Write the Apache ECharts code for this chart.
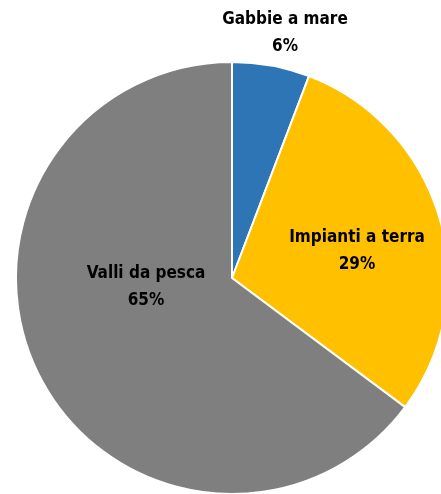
<!DOCTYPE html>
<html>
<head>
<meta charset="utf-8">
<style>html,body{margin:0;padding:0;background:#fff;}#c{width:441px;height:494px;}</style>
<script src="https://cdn.jsdelivr.net/npm/echarts@6/dist/echarts.min.js"></script>
</head>
<body>
<div id="c"></div>
<script>
var categories = ['Gabbie a mare', 'Impianti a terra', 'Valli da pesca'];
var values = [5.8, 29.4, 64.8];
var colors = ['#2E75B6', '#FFC000', '#7F7F7F'];
var labelPos = [[285, 33], [357, 251], [146, 287]];

var chart = echarts.init(document.getElementById('c'));
chart.setOption({
  animation: false,
  series: [{
    type: 'pie',
    center: [232, 278],
    radius: [0, 216],
    startAngle: 90,
    clockwise: true,
    avoidLabelOverlap: false,
    itemStyle: { borderColor: '#fff', borderWidth: 2 },
    label: {
      show: true,
      position: 'inside',
      formatter: function (p) { return p.name + '\n' + Math.round(p.percent) + '%'; },
      fontFamily: '"DejaVu Sans Condensed", "Noto Sans", sans-serif',
      fontWeight: 'bold',
      fontSize: 17,
      lineHeight: 27,
      color: '#000',
      align: 'center'
    },
    labelLine: { show: false },
    labelLayout: function (params) {
      var p = labelPos[params.dataIndex];
      return { x: p[0], y: p[1], align: 'center', verticalAlign: 'middle' };
    },
    data: categories.map(function (c, i) {
      return { name: c, value: values[i], itemStyle: { color: colors[i] } };
    })
  }]
});
</script>
</body>
</html>
